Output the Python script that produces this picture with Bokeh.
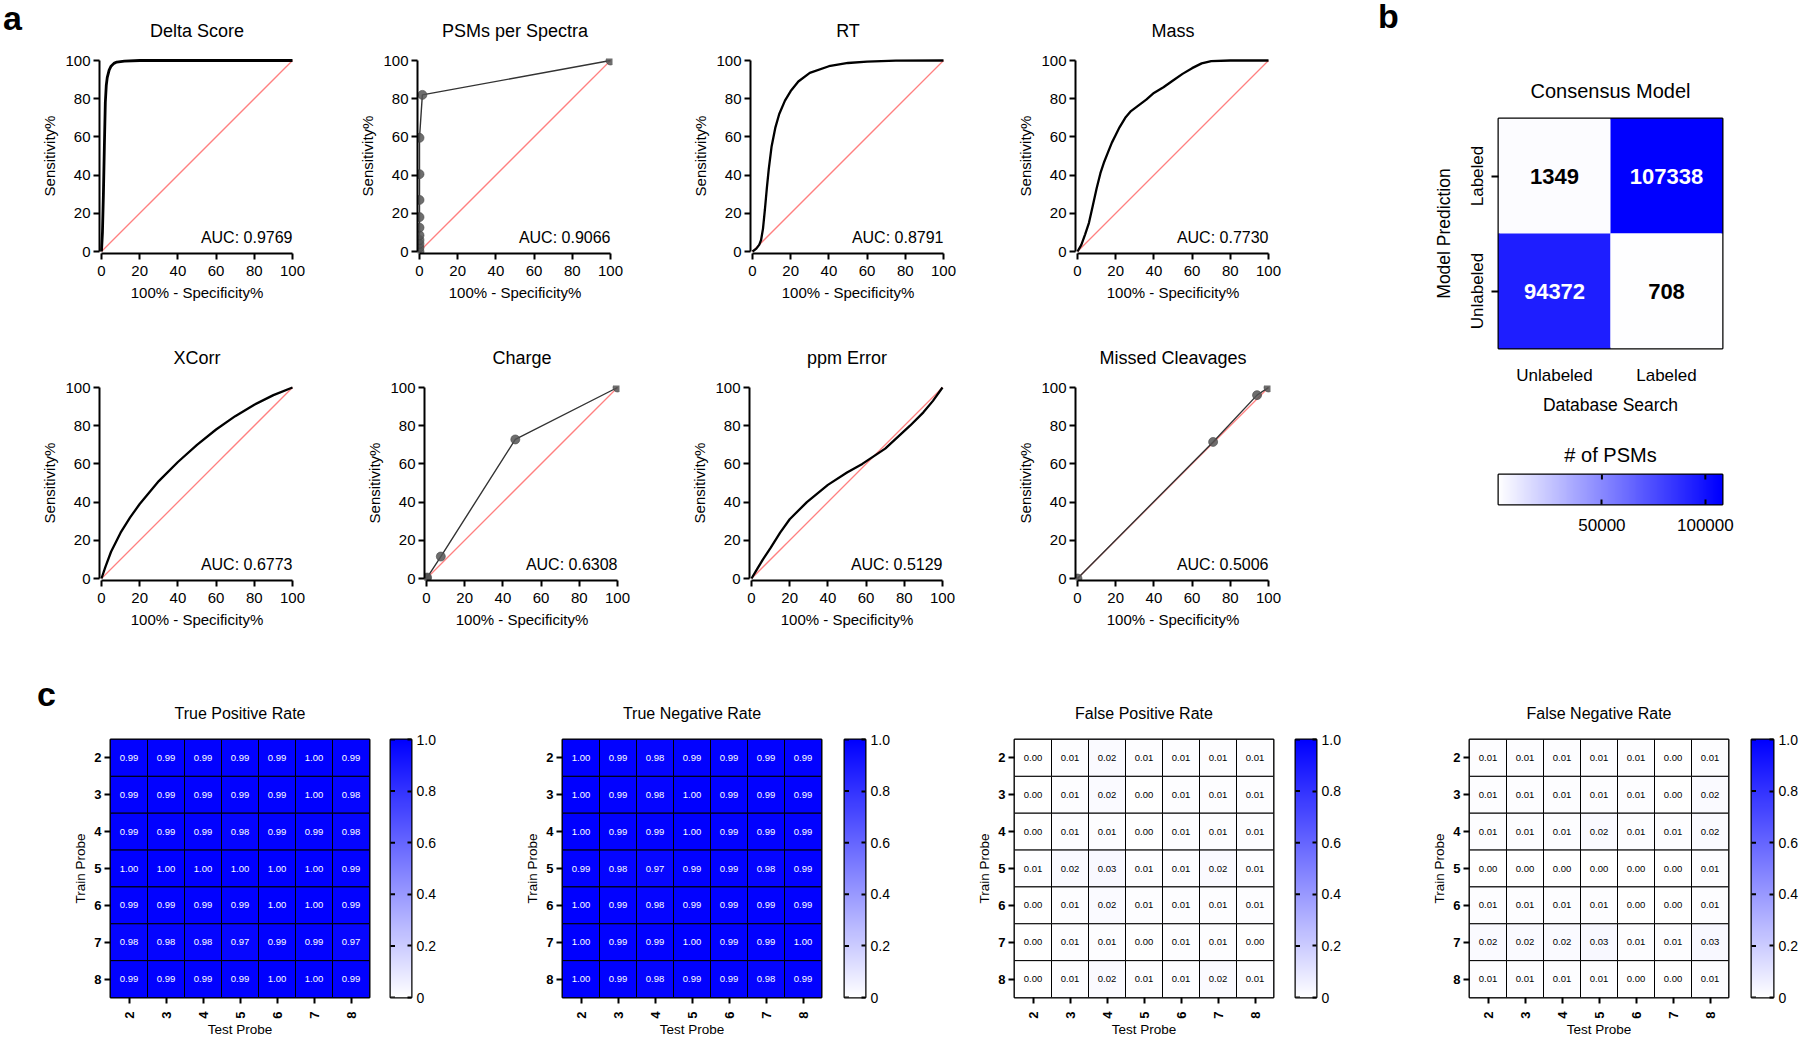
import numpy as np
from bokeh.plotting import figure
from bokeh.layouts import row, column
from bokeh.models import (Range1d, Label, LinearColorMapper, FactorRange, FixedTicker,
                          ColumnDataSource, Spacer, Div)
from bokeh.transform import linear_cmap
from bokeh.core.properties import value
from bokeh.embed import file_html
from bokeh.resources import INLINE

FONT = "Liberation Sans"

# ---------------- Panel a: ROC data (100% - Specificity%, Sensitivity%) ----------------
delta_fpr = [0, 0.5, 1.0, 1.5, 2.0, 2.5, 3.0, 4.0, 5.0, 6.5, 8.0, 12, 20, 100]
delta_tpr = [0, 10, 30, 55, 78, 87, 91, 95, 97, 98.5, 99.2, 99.7, 100, 100]
psm_fpr = [0, 0, 0, 0, 0, 0, 0, 0, 0, 0, 1.5, 100]
psm_tpr = [0, 2, 4, 6, 8.5, 12.5, 18, 27, 40.5, 59.5, 82, 100]
rt_fpr = [0, 2, 3.5, 4.5, 5.5, 6.5, 7.5, 8.5, 10, 12, 14, 17, 20, 24, 30, 40, 50, 60, 75, 100]
rt_tpr = [0, 1.5, 3.5, 6, 12, 22, 33, 43, 55, 65, 72, 79, 84, 89, 93.5, 97, 98.7, 99.4, 99.9, 100]
mass_fpr = [0, 2, 4, 6, 8, 10, 12, 14, 16, 18, 20, 22, 25, 28, 32, 36, 40, 45, 50, 55, 60, 65, 70, 80, 100]
mass_tpr = [0, 3.5, 9, 15, 24, 33, 41, 47, 52, 57, 61, 65, 70, 73.5, 76.5, 79.5, 83, 86, 89.5, 93, 96, 98.5, 99.7, 100, 100]
xcorr_fpr = [0, 2, 5, 10, 15, 20, 30, 40, 50, 60, 70, 80, 90, 100]
xcorr_tpr = [0, 6, 14, 24, 32, 39, 51, 61, 70, 78, 85, 91, 96, 100]
charge_fpr = [0, 0.3, 7.5, 46.5, 100]
charge_tpr = [0, 0.5, 11.5, 72.8, 100]
ppm_fpr = [0, 3, 6, 10, 15, 20, 29, 40, 50, 58, 70, 83, 90, 95, 100]
ppm_tpr = [0, 5, 10, 16, 24, 31, 40, 49, 55.5, 60, 68, 80, 87, 93, 100]
missed_fpr = [0, 71, 94, 100]
missed_tpr = [0, 71.5, 96, 100]

roc_titles = ["Delta Score", "PSMs per Spectra", "RT", "Mass",
              "XCorr", "Charge", "ppm Error", "Missed Cleavages"]
roc_auc = ["0.9769", "0.9066", "0.8791", "0.7730", "0.6773", "0.6308", "0.5129", "0.5006"]
roc_kind = ["curve", "points", "curve", "curve", "curve", "points", "curve", "points"]
roc_x = [delta_fpr, psm_fpr, rt_fpr, mass_fpr, xcorr_fpr, charge_fpr, ppm_fpr, missed_fpr]
roc_y = [delta_tpr, psm_tpr, rt_tpr, mass_tpr, xcorr_tpr, charge_tpr, ppm_tpr, missed_tpr]
roc_ticks = [0, 20, 40, 60, 80, 100]
diag = [0, 100]

# ---------------- Panel b: confusion matrix ----------------
cm_classes = ["Unlabeled", "Labeled"]
cm_search = ["Unlabeled", "Labeled", "Unlabeled", "Labeled"]
cm_pred = ["Labeled", "Labeled", "Unlabeled", "Unlabeled"]
cm_counts = [1349, 107338, 94372, 708]
cm_ticks = [50000, 100000]

# ---------------- Panel c: probe heatmaps (rows = train probe, cols = test probe) -----
probes = [2, 3, 4, 5, 6, 7, 8]
tpr = [[0.99, 0.99, 0.99, 0.99, 0.99, 1.00, 0.99],
       [0.99, 0.99, 0.99, 0.99, 0.99, 1.00, 0.98],
       [0.99, 0.99, 0.99, 0.98, 0.99, 0.99, 0.98],
       [1.00, 1.00, 1.00, 1.00, 1.00, 1.00, 0.99],
       [0.99, 0.99, 0.99, 0.99, 1.00, 1.00, 0.99],
       [0.98, 0.98, 0.98, 0.97, 0.99, 0.99, 0.97],
       [0.99, 0.99, 0.99, 0.99, 1.00, 1.00, 0.99]]
tnr = [[1.00, 0.99, 0.98, 0.99, 0.99, 0.99, 0.99],
       [1.00, 0.99, 0.98, 1.00, 0.99, 0.99, 0.99],
       [1.00, 0.99, 0.99, 1.00, 0.99, 0.99, 0.99],
       [0.99, 0.98, 0.97, 0.99, 0.99, 0.98, 0.99],
       [1.00, 0.99, 0.98, 0.99, 0.99, 0.99, 0.99],
       [1.00, 0.99, 0.99, 1.00, 0.99, 0.99, 1.00],
       [1.00, 0.99, 0.98, 0.99, 0.99, 0.98, 0.99]]
fpr = [[0.00, 0.01, 0.02, 0.01, 0.01, 0.01, 0.01],
       [0.00, 0.01, 0.02, 0.00, 0.01, 0.01, 0.01],
       [0.00, 0.01, 0.01, 0.00, 0.01, 0.01, 0.01],
       [0.01, 0.02, 0.03, 0.01, 0.01, 0.02, 0.01],
       [0.00, 0.01, 0.02, 0.01, 0.01, 0.01, 0.01],
       [0.00, 0.01, 0.01, 0.00, 0.01, 0.01, 0.00],
       [0.00, 0.01, 0.02, 0.01, 0.01, 0.02, 0.01]]
fnr = [[0.01, 0.01, 0.01, 0.01, 0.01, 0.00, 0.01],
       [0.01, 0.01, 0.01, 0.01, 0.01, 0.00, 0.02],
       [0.01, 0.01, 0.01, 0.02, 0.01, 0.01, 0.02],
       [0.00, 0.00, 0.00, 0.00, 0.00, 0.00, 0.01],
       [0.01, 0.01, 0.01, 0.01, 0.00, 0.00, 0.01],
       [0.02, 0.02, 0.02, 0.03, 0.01, 0.01, 0.03],
       [0.01, 0.01, 0.01, 0.01, 0.00, 0.00, 0.01]]
heat_titles = ["True Positive Rate", "True Negative Rate", "False Positive Rate", "False Negative Rate"]
heat_vals = [tpr, tnr, fpr, fnr]
cb_ticks = [0, 0.2, 0.4, 0.6, 0.8, 1.0]

# ---------------- styling helpers ----------------
BLUE_PAL = ["#%02x%02xff" % (255 - i, 255 - i) for i in range(256)]


def base_fig(**kw):
    p = figure(output_backend="svg", toolbar_location=None, **kw)
    p.grid.visible = False
    p.background_fill_color = "white"
    p.border_fill_color = "white"
    p.title.text_font = FONT
    p.title.text_font_style = "normal"
    p.title.align = "center"
    p.title.text_color = "black"
    return p


def letter_div(w, h, letter, left, top, lh=30):
    html = ('<div style="position:relative; left:%dpx; top:%dpx; margin:0; padding:0; '
            'font-family:\'Liberation Sans\'; font-size:34px; font-weight:bold; '
            'line-height:%dpx; color:black;">%s</div>' % (left, top, lh, letter))
    return Div(text=html, width=w, height=h, margin=0)


def style_axis(ax, size="15px", bold=False, tick_w=2, tick_out=6):
    ax.axis_line_width = 2
    ax.axis_line_color = "black"
    ax.major_tick_line_width = tick_w
    ax.major_tick_line_color = "black"
    ax.major_tick_out = tick_out
    ax.major_tick_in = 0
    ax.minor_tick_line_color = None
    ax.major_label_text_font = FONT
    ax.major_label_text_font_size = size
    ax.major_label_text_color = "black"
    ax.major_label_text_font_style = "bold" if bold else "normal"
    ax.axis_label_text_font = FONT
    ax.axis_label_text_font_style = "normal"
    ax.axis_label_text_color = "black"


UNIT = 191 / 100.0     # px per percent
PADPX = 2
PADU = PADPX / UNIT
ROC_FRAME = 191 + 2 * PADPX


def roc_fig(i, bl, br, bt, bb, standoff):
    p = base_fig(frame_width=ROC_FRAME, frame_height=ROC_FRAME,
                 x_range=Range1d(-PADU, 100 + PADU), y_range=Range1d(-PADU, 100 + PADU),
                 min_border_left=bl, min_border_right=br,
                 min_border_top=bt, min_border_bottom=bb)
    p.outline_line_color = None
    p.title.text = roc_titles[i]
    p.title.text_font_size = "18px"
    p.title.standoff = standoff
    for ax in (p.xaxis[0], p.yaxis[0]):
        style_axis(ax)
        ax.ticker = FixedTicker(ticks=roc_ticks)
        ax.axis_label_text_font_size = "15px"
        ax.bounds = (0, 100)
    p.xaxis.major_label_standoff = 6
    p.xaxis.axis_label_standoff = 5
    p.yaxis.major_label_standoff = 3
    p.yaxis.axis_label_standoff = 4
    p.xaxis.axis_label = "100% - Specificity%"
    p.yaxis.axis_label = "Sensitivity%"
    p.line(diag, diag, line_color="#ff8080", line_width=1.3)
    if roc_kind[i] == "curve":
        p.line(roc_x[i], roc_y[i], line_color="black", line_width=2.8 if i == 0 else 2.3)
    else:
        p.line(roc_x[i], roc_y[i], line_color="#333333", line_width=1.4)
        p.scatter(roc_x[i], roc_y[i], size=9, fill_color="#555555", fill_alpha=0.85,
                  line_color="#444444", line_alpha=0.6)
    p.add_layout(Label(x=100, y=7.5, text="AUC: " + roc_auc[i], text_align="right",
                       text_baseline="middle", text_font=FONT, text_font_size="16px",
                       text_color="black"))
    return p


# ---------------- Panel a ----------------
row1_b = [(61, 36), (87, 43), (95, 35), (95, 30)]
row2_b = [(61, 36), (94, 36), (94, 36), (95, 30)]
r1 = [roc_fig(k, row1_b[k][0], row1_b[k][1], 58, 73, 35) for k in range(4)]
r2 = [roc_fig(k + 4, row2_b[k][0], row2_b[k][1], 59, 56, 36) for k in range(4)]
a_div = letter_div(38, 326, "a", 3, 1, 34)
panel_a = column(row(a_div, *r1), row(Spacer(width=38, height=310), *r2))

# ---------------- Panel b ----------------
b_div = letter_div(498, 38, "b", 78, 1)
cm_mapper = LinearColorMapper(palette=BLUE_PAL, low=0, high=max(cm_counts))
cm_src = ColumnDataSource(dict(
    x=cm_search, y=cm_pred, v=cm_counts, t=[str(c) for c in cm_counts],
    tc=["white" if c > max(cm_counts) / 2 else "black" for c in cm_counts]))
pb = base_fig(frame_width=224, frame_height=230,
              x_range=FactorRange(factors=cm_classes), y_range=FactorRange(factors=cm_classes),
              min_border_left=198, min_border_right=76, min_border_top=80, min_border_bottom=72)
pb.title.text = "Consensus Model"
pb.title.text_font_size = "20px"
pb.title.standoff = 34
pb.rect(x="x", y="y", width=1, height=1, source=cm_src,
        fill_color={"field": "v", "transform": cm_mapper}, line_color=None)
pb.text(x="x", y="y", text="t", source=cm_src, text_color="tc", text_align="center",
        text_baseline="middle", text_font=value(FONT), text_font_size="22px",
        text_font_style="bold")
pb.outline_line_color = "black"
pb.outline_line_width = 2
style_axis(pb.xaxis[0], size="17px", tick_out=12)
style_axis(pb.yaxis[0], size="17px", tick_out=7)
pb.xaxis.axis_line_color = None
pb.yaxis.axis_line_color = None
pb.xaxis.major_tick_line_color = None
pb.yaxis.major_label_orientation = "vertical"
pb.xaxis.axis_label = "Database Search"
pb.yaxis.axis_label = "Model Prediction"
pb.xaxis.axis_label_text_font_size = "17.5px"
pb.yaxis.axis_label_text_font_size = "17.5px"
pb.xaxis.axis_label_standoff = 7
pb.yaxis.axis_label_standoff = 11

cb_hi = 108300
pbc = base_fig(frame_width=224, frame_height=30, x_range=Range1d(0, cb_hi), y_range=Range1d(0, 1),
               min_border_left=198, min_border_right=76, min_border_top=54, min_border_bottom=41,
               y_axis_location=None)
pbc.title.text = "# of PSMs"
pbc.title.text_font_size = "20px"
pbc.title.standoff = 18
pbc.image(image=[np.linspace(0, cb_hi, 256).reshape(1, 256)], x=0, y=0, dw=cb_hi, dh=1,
          color_mapper=cm_mapper)
pbc.rect(x=cm_ticks, y=[1, 1], width=2, height=10, width_units="screen", height_units="screen",
         fill_color="black", line_color=None)
pbc.outline_line_color = "black"
pbc.outline_line_width = 2
style_axis(pbc.xaxis[0], size="17px")
pbc.xaxis.ticker = FixedTicker(ticks=cm_ticks)
pbc.xaxis.major_label_overrides = {50000: "50000", 100000: "100000"}
pbc.xaxis.major_tick_out = 0
pbc.xaxis.major_tick_in = 5
pbc.xaxis.axis_line_color = None
pbc.xaxis.major_label_standoff = 14
panel_b = column(b_div, pb, pbc)


# ---------------- Panel c ----------------
HT, HF, HB = 103, 258, 39


def heat_fig(title, vals, bl, br):
    xs, ys, vs = [], [], []
    for r, tr in enumerate(probes):
        for c, te in enumerate(probes):
            xs.append(te)
            ys.append(tr)
            vs.append(vals[r][c])
    src = ColumnDataSource(dict(x=xs, y=ys, v=vs, t=["%.2f" % v for v in vs],
                                tc=["white" if v > 0.5 else "black" for v in vs]))
    p = base_fig(frame_width=259, frame_height=HF,
                 x_range=Range1d(1.5, 8.5), y_range=Range1d(8.5, 1.5),
                 min_border_left=bl, min_border_right=br, min_border_top=HT, min_border_bottom=HB)
    p.title.text = title
    p.title.text_font_size = "16px"
    p.title.standoff = 35
    p.rect(x="x", y="y", width=1, height=1, source=src,
           fill_color=linear_cmap("v", BLUE_PAL, 0, 1), line_color="black", line_width=1)
    p.text(x="x", y="y", text="t", source=src, text_color="tc", text_align="center",
           text_baseline="middle", text_font=value(FONT), text_font_size="9.5px")
    p.outline_line_color = "black"
    p.outline_line_width = 2
    for ax in (p.xaxis[0], p.yaxis[0]):
        style_axis(ax, size="13px", bold=True, tick_out=6)
        ax.ticker = FixedTicker(ticks=probes)
        ax.axis_line_color = None
        ax.axis_label_text_font_size = "13.5px"
        ax.major_label_standoff = 3
        ax.axis_label_standoff = 3
    p.xaxis.major_label_standoff = 8
    p.xaxis.axis_label_standoff = 0
    p.xaxis.major_label_orientation = np.pi / 2
    p.xaxis.axis_label = "Test Probe"
    p.yaxis.axis_label = "Train Probe"
    return p


def heat_cb(bl, fw, br):
    p = base_fig(frame_width=fw, frame_height=HF, x_range=Range1d(0, 1), y_range=Range1d(0, 1),
                 min_border_left=bl, min_border_right=br, min_border_top=HT, min_border_bottom=HB,
                 x_axis_location=None, y_axis_location="right")
    mapper = LinearColorMapper(palette=BLUE_PAL, low=0, high=1)
    p.image(image=[np.linspace(0, 1, 256).reshape(256, 1)], x=0, y=0, dw=1, dh=1,
            color_mapper=mapper)
    p.rect(x=[0] * len(cb_ticks), y=cb_ticks, width=9, height=2, width_units="screen",
           height_units="screen", fill_color="black", line_color=None)
    p.outline_line_color = "black"
    p.outline_line_width = 2
    ax = p.yaxis[0]
    style_axis(ax, size="14px")
    ax.ticker = FixedTicker(ticks=cb_ticks)
    ax.major_label_overrides = {0: "0", 1: "1.0"}
    ax.axis_line_color = None
    ax.major_tick_out = 0
    ax.major_tick_in = 4
    ax.major_label_standoff = 5
    return p


heat_b = [(54, 10), (54, 10), (54, 10), (54, 10)]
cb_b = [(11, 21, 97), (13, 21, 95), (12, 21, 99), (13, 22, 25)]
heat_children = [letter_div(56, HT + HF + HB, "c", 37, 43)]
for k in range(4):
    heat_children.append(heat_fig(heat_titles[k], heat_vals[k], heat_b[k][0], heat_b[k][1]))
    heat_children.append(heat_cb(*cb_b[k]))
panel_c = row(*heat_children)

layout = column(row(panel_a, panel_b), panel_c)

open("out.html", "w").write(file_html(layout, INLINE))
